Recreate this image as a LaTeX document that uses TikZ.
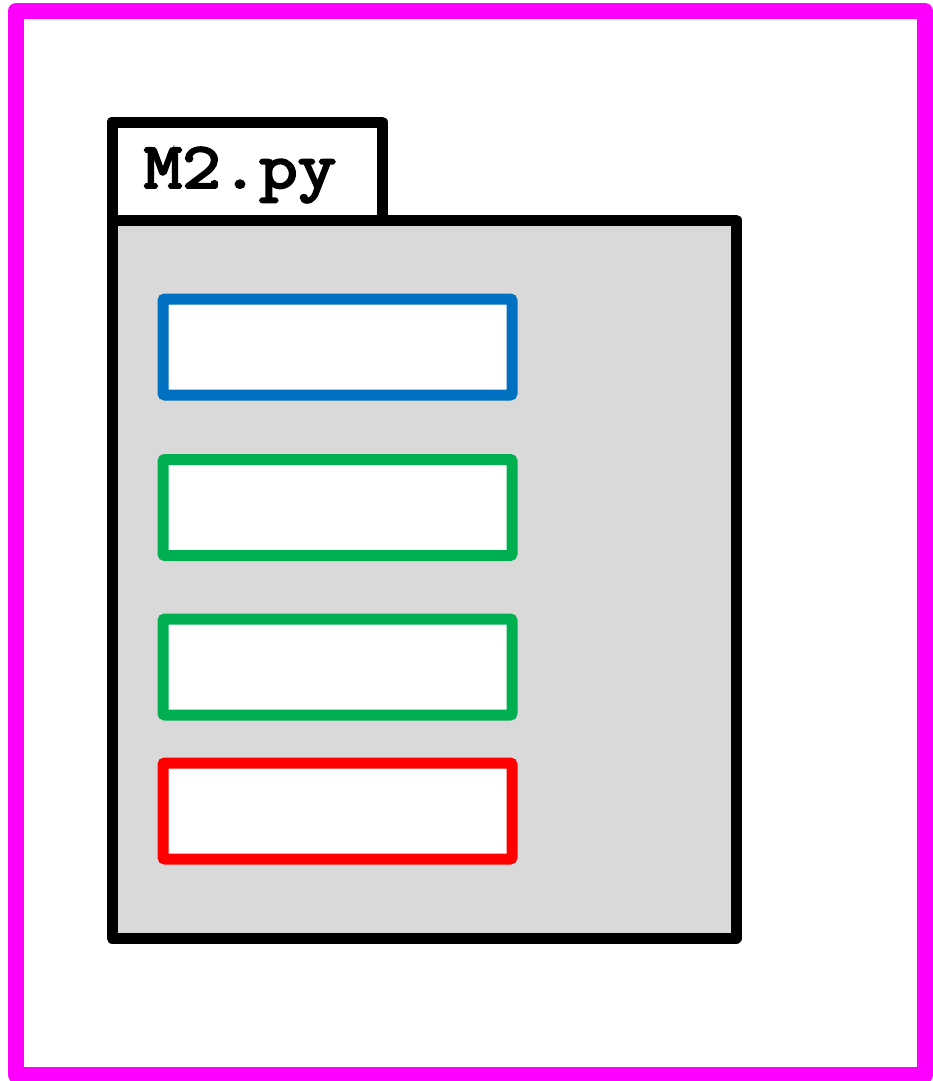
\documentclass[tikz,border=0pt]{standalone}
\usepackage{fontspec}
\newfontfamily\tabfont{Latin Modern Mono}[FakeBold=3.5,FakeStretch=1.15]
\usetikzlibrary{positioning}
\definecolor{frameMagenta}{HTML}{FF00FF}
\definecolor{defBlue}{HTML}{0070C0}
\definecolor{defGreen}{HTML}{00B050}
\definecolor{defRed}{HTML}{FF0000}
\definecolor{moduleGray}{HTML}{D9D9D9}
\newcommand{\defBox}[4]{%%
  \node[boxStyle,draw=#4] (#1) at (#2,#3) {};
}

\begin{document}
\begin{tikzpicture}[x=1pt,y=-1pt,%%
  frameStyle/.style={draw=frameMagenta,line width=16pt,line join=round},%%
  moduleStyle/.style={draw=black,line width=11pt,line join=round},%%
  boxStyle/.style={fill=white,line width=11pt,rounded corners=2pt,inner sep=0pt,
    minimum width=349pt,minimum height=96pt}%%
]
%%
\useasboundingbox (0,0) rectangle (932,1081);
%%
%% The outer frame.
\draw[frameStyle] (16,11) rectangle (925,1075);
%%
%% The module: tab on top, body below.
\draw[moduleStyle,fill=white] (112,220) |- (382,122) -- (382,220);
\draw[moduleStyle,fill=moduleGray] (112,220) rectangle (736,938);
\node[font=\tabfont\fontsize{65}{70}\selectfont] (modName) at (240,175) {M2.py};
%%
%% Definitions inside the module.
\defBox{defA}{337.5}{347}{defBlue}
\defBox{defB}{337.5}{507.5}{defGreen}
\defBox{defC}{337.5}{667}{defGreen}
\defBox{defD}{337.5}{811}{defRed}
\end{tikzpicture}
\end{document}
